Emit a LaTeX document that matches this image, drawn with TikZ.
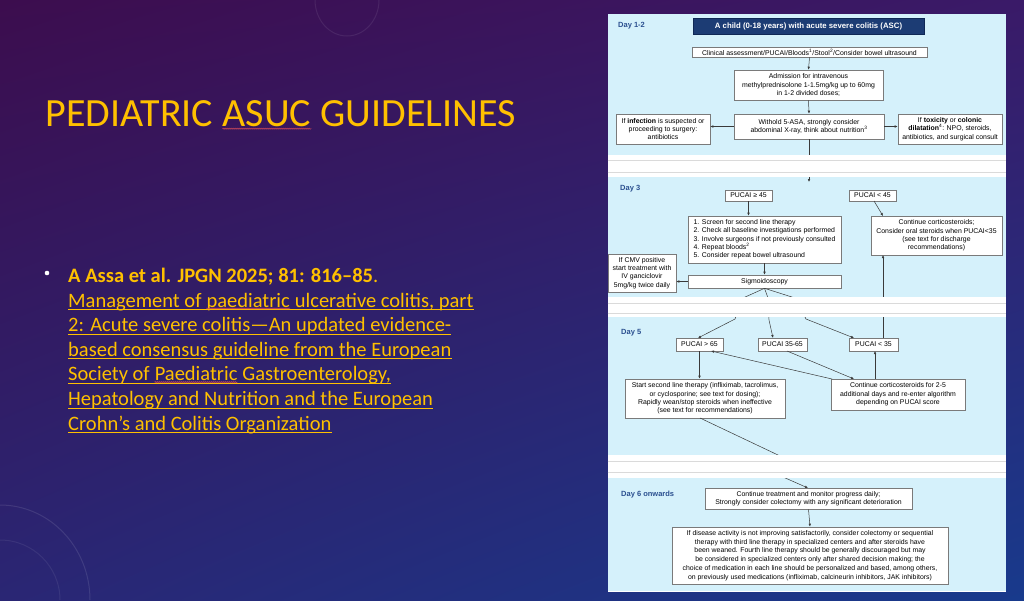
\documentclass[tikz,border=0pt]{standalone}
\usepackage{fontspec}
\setmainfont{Carlito}
\newfontfamily\arialf{Liberation Sans}
\usetikzlibrary{arrows.meta,decorations.pathmorphing,calc,shadings}
\definecolor{gold}{HTML}{FFC000}
\definecolor{bandblue}{HTML}{D5F1FB}
\definecolor{dayblue}{HTML}{2A4F8F}
\definecolor{navybox}{HTML}{1C3C74}
\definecolor{navyline}{HTML}{0F2855}
\definecolor{boxline}{HTML}{7A7A7A}
\definecolor{conncol}{HTML}{3A3A3A}
\definecolor{gapline}{HTML}{DADADA}
\definecolor{spellred}{HTML}{D04A5A}
\definecolor{bgul}{RGB}{60,13,78}
\definecolor{bgur}{RGB}{58,26,104}
\definecolor{bgll}{RGB}{42,38,116}
\definecolor{bglr}{RGB}{24,58,140}
\tikzset{
  titlef/.style={font=\fontsize{40}{44}\selectfont, text=gold, inner sep=0pt, anchor=base west},
  bt/.style={font=\fontsize{20.5}{24.6}\selectfont, text=gold, inner sep=0pt, anchor=base west},
  uline/.style={draw=gold, line width=1pt},
  spell/.style={draw=spellred, line width=0.5pt, decorate, decoration={snake, amplitude=0.6pt, segment length=2pt}},
  fc/.style={font=\arialf\fontsize{6.9}{8.3}\selectfont},
  box/.style={fc, draw=boxline, fill=white, line width=0.6pt, inner sep=0.5pt, align=center},
  daylbl/.style={font=\arialf\bfseries\fontsize{7.5}{9}\selectfont, text=dayblue, anchor=west, inner sep=0pt},
  conn/.style={draw=conncol, line width=0.5pt},
  arr/.style={conn, -{Latex[length=3pt,width=2.6pt]}},
  gl/.style={draw=gapline, line width=0.6pt}
}
\begin{document}
\begin{tikzpicture}[x=1pt,y=-1pt]
\useasboundingbox (0,0) rectangle (1024,600);
% slide background
\shade[upper left=bgul, upper right=bgur, lower left=bgll, lower right=bglr]
  (0,0) rectangle (1024,600);
\draw[white, opacity=0.08, line width=1pt] (315,0) arc[start angle=180, end angle=360, x radius=32, y radius=-36];
\draw[white, opacity=0.10, line width=1pt] (0,505) arc[start angle=90, end angle=0, x radius=90, y radius=-95];
\draw[white, opacity=0.07, line width=1pt] (0,540) arc[start angle=90, end angle=0, x radius=60, y radius=-60];

% title
\node[titlef] (t1) at (45.5,126.7) {PEDIATRIC\ \mbox{}};
\node[titlef] (t2) at (t1.base east) {ASUC};
\node[titlef] (t3) at (t2.base east) {\ GUIDELINES};
\draw[spell] ([yshift=-2pt]t2.base west) -- ([yshift=-2pt]t2.base east);

% bullet
\fill[white] (47,273) circle (2.3);
\node[bt] (b1) at (68,282.7) {\textbf{A Assa et al. JPGN 2025; 81: 816–85}.};
\node[bt] (b2a) at (68,307.25) {Management of\ \mbox{}};
\node[bt] (b2b) at (b2a.base east) {paediatric};
\node[bt] (b2c) at (b2b.base east) {\ ulcerative colitis, part};
\node[bt] (b3) at (68,331.8) {2: Acute severe colitis—An updated evidence-};
\node[bt] (b4) at (68,356.35) {based consensus guideline from the European};
\node[bt] (b5a) at (68,380.9) {Society of\ \mbox{}};
\node[bt] (b5b) at (b5a.base east) {Paediatric};
\node[bt] (b5c) at (b5b.base east) {\ Gastroenterology,};
\node[bt] (b6) at (68,405.45) {Hepatology and Nutrition and the European};
\node[bt] (b7) at (68,430) {Crohn’s and Colitis Organization};
\foreach \a/\b in {b2a/b2c,b3/b3,b4/b4,b5a/b5c,b6/b6,b7/b7}{
  \draw[uline] ([yshift=-2.6pt]\a.base west) -- ([yshift=-2.6pt]\b.base east);
}
\draw[spell] ([yshift=-1.2pt]b2b.base west) -- ([yshift=-1.2pt]b2b.base east);
\draw[spell] ([yshift=-1.2pt]b5b.base west) -- ([yshift=-1.2pt]b5b.base east);

% flowchart image background
\fill[white] (607.5,14) rectangle (1006,592);
\fill[bandblue] (607.5,14) rectangle (1006,155);
\fill[bandblue] (607.5,177) rectangle (1006,297);
\fill[bandblue] (607.5,317) rectangle (1006,455);
\fill[bandblue] (607.5,478) rectangle (1006,590.5);

% day labels
\node[daylbl] (d1) at (618,26) {Day 1-2};
\node[daylbl] (d3) at (620,189) {Day 3};
\node[daylbl] (d5) at (621,333) {Day 5};
\node[daylbl] (d6) at (621,495) {Day 6 onwards};

% boxes
\node[draw=navyline, fill=navybox, text=white, line width=0.6pt, inner sep=0pt,
      font=\arialf\bfseries\fontsize{7.8}{9}\selectfont, minimum width=231pt, minimum height=16pt]
  (top) at (808.5,26) {A child (0-18 years) with acute severe colitis (ASC)};
\node[box, minimum width=235pt, minimum height=10pt] (clin) at (809.5,52)
  {Clinical assessment/PUCAI/Bloods\textsuperscript{1}/Stool\textsuperscript{2}/Consider bowel ultrasound};
\node[box, minimum width=149pt, minimum height=30pt] (adm) at (808.5,85)
  {Admission for intravenous\\methylprednisolone 1-1.5mg/kg up to 60mg\\in 1-2 divided doses;};
\node[box, minimum width=94pt, minimum height=30pt] (inf) at (663,129)
  {If \textbf{infection} is suspected or\\proceeding to surgery:\\antibiotics};
\node[box, minimum width=150pt, minimum height=25pt] (wit) at (809,126.5)
  {Withold 5-ASA, strongly consider\\abdominal X-ray, think about nutrition\textsuperscript{3}};
\node[box, minimum width=104pt, minimum height=30pt] (tox) at (950,129)
  {If \textbf{toxicity} or \textbf{colonic}\\\textbf{dilatation}\textsuperscript{4}: NPO, steroids,\\antibiotics, and surgical consult};

\node[box, minimum width=47pt, minimum height=11pt] (pa) at (748.5,195.5) {PUCAI \char"2265\ 45};
\node[box, minimum width=47pt, minimum height=11pt] (pb) at (872.5,195.5) {PUCAI < 45};
\node[box, minimum width=153pt, minimum height=47pt, align=left] (list) at (764.5,239.5)
  {1. Screen for second line therapy\\2. Check all baseline investigations performed\\3. Involve surgeons if not previously consulted\\4. Repeat bloods\textsuperscript{2}\\5. Consider repeat bowel ultrasound};
\node[box, minimum width=131pt, minimum height=39pt] (c3) at (936.5,235.5)
  {Continue corticosteroids;\\Consider oral steroids when PUCAI<35\\(see text for discharge\\recommendations)};
\node[box, minimum width=153pt, minimum height=13pt] (sig) at (764.5,281.5) {Sigmoidoscopy};
\node[box, minimum width=68pt, minimum height=38pt] (cmv) at (642,273)
  {If CMV positive\\start treatment with\\IV ganciclovir\\5mg/kg twice daily};

\node[box, minimum width=47pt, minimum height=13pt] (p65) at (699.5,344.5) {PUCAI > 65};
\node[box, minimum width=49pt, minimum height=13pt] (pmid) at (782.5,344.5) {PUCAI 35-65};
\node[box, minimum width=49pt, minimum height=13pt] (p35) at (873.5,344.5) {PUCAI < 35};
\node[box, minimum width=160pt, minimum height=39pt] (start) at (705,398.5)
  {Start second line therapy (infliximab, tacrolimus,\\or cyclosporine; see text for dosing);\\Rapidly wean/stop steroids when ineffective\\(see text for recommendations)};
\node[box, minimum width=134pt, minimum height=31pt] (c5) at (898,394.5)
  {Continue corticosteroids for 2-5\\additional days and re-enter algorithm\\depending on PUCAI score};

\node[box, minimum width=207pt, minimum height=21pt] (ctm) at (808.5,498.5)
  {Continue treatment and monitor progress daily;\\Strongly consider colectomy with any significant deterioration};
\node[box, minimum width=276pt, minimum height=57pt, font=\arialf\fontsize{6.9}{8.7}\selectfont] (fin) at (810,555.5)
  {If disease activity is not improving satisfactorily, consider colectomy or sequential\\therapy with third line therapy in specialized centers and after steroids have\\been weaned. Fourth line therapy should be generally discouraged but may\\be considered in specialized centers only after shared decision making; the\\choice of medication in each line should be personalized and based, among others,\\on previously used medications (infliximab, calcineurin inhibitors, JAK inhibitors)};

% connectors
\coordinate (g1end) at (809,182);
\draw[arr] (clin.south) -- (adm.north);
\draw[arr] (adm.south) -- (wit.north);
\draw[arr] (wit.west) -- (wit.west -| inf.east);
\draw[arr] (wit.east) -- (wit.east -| tox.west);
\draw[arr] (wit.south) -- (g1end);
\draw[arr] (pa.south) -- (pa.south |- list.north);
\draw[arr] (874,201) -- (883,216);
\draw[arr] (list.south) -- (sig.north);
\draw[arr] (sig.west) -- (sig.west -| cmv.east);
\draw[arr] (sig.south) -- (743,298) -- (735,319) -- (698,338);
\draw[arr] (sig.south) -- (768,298) -- (769,320) -- (773,338);
\draw[arr] (sig.south) -- (795,298) -- (806,319) -- (854,338);
\draw[arr] (883,338) -- (883,255);
\draw[arr] (p65.south) -- (p65.south |- start.north);
\draw[arr] (832,379) -- (711,351);
\draw[arr] (787,351) -- (854,379);
\draw[arr] (875,379) -- (875,351);
\draw[arr] (700,418) -- (778,455) -- (783,477) -- (808,488);
\draw[arr] (ctm.south) -- (fin.north);

% white separators between the days
\fill[white] (607.5,155) rectangle (1006,177);
\draw[gl] (607.5,160) -- (1006,160);
\draw[gl] (607.5,172) -- (1006,172);
\fill[white] (607.5,297) rectangle (1006,317);
\draw[gl] (607.5,303) -- (1006,303);
\draw[gl] (607.5,313) -- (1006,313);
\fill[white] (607.5,455) rectangle (1006,478);
\draw[gl] (607.5,461) -- (1006,461);
\draw[gl] (607.5,472) -- (1006,472);
\end{tikzpicture}
\end{document}
